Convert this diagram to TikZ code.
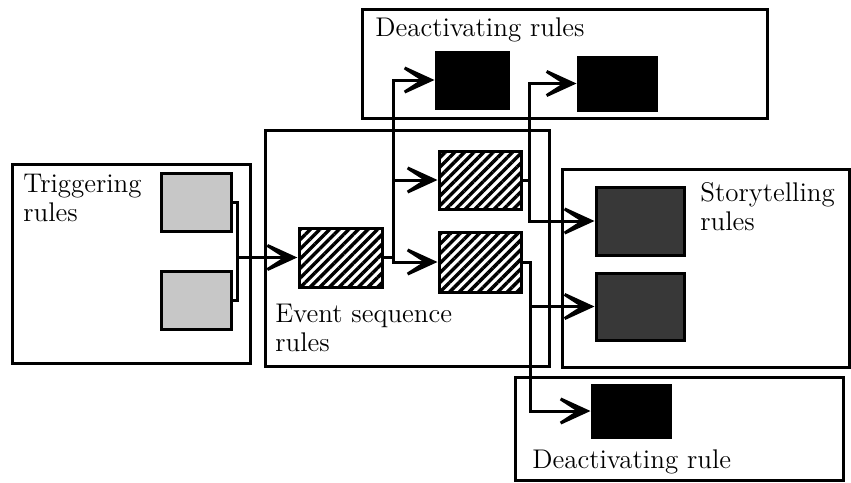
\documentclass[tikz,border=0pt]{standalone}
\usetikzlibrary{arrows.meta}
\usetikzlibrary{patterns.meta}
\tikzset{
  groupbox/.style={draw, line width=1.5pt, inner sep=0pt},
  rulecell/.style={draw, line width=1.5pt, inner sep=0pt},
  trigcell/.style={rulecell, fill=black!22},
  eventcell/.style={rulecell, fill=white,
    pattern={Lines[angle=45, distance=3.4pt, line width=1.7pt]}},
  deactcell/.style={rulecell, fill=black},
  storycell/.style={rulecell, fill=black!78},
  grouplabel/.style={anchor=north west, inner sep=0pt, align=left,
    font=\fontsize{13.5}{14.5}\selectfont},
  link/.style={line width=1.5pt},
  arrowlink/.style={link, -{Stealth[length=24pt, width=22pt, inset=17pt]}},
}

\begin{document}
\begin{tikzpicture}[x=0.5pt, y=-0.5pt]
\useasboundingbox (0,0) rectangle (851,482);

% Rule groups.
\node[groupbox, minimum width=119pt, minimum height=99.5pt]
  (trigbox) at (131,263.5) {};
\node[groupbox, minimum width=142pt, minimum height=118pt]
  (eventbox) at (407,248) {};
\node[groupbox, minimum width=202.5pt, minimum height=54.5pt]
  (topbox) at (564.5,63.5) {};
\node[groupbox, minimum width=143.5pt, minimum height=99pt]
  (storybox) at (705.5,268) {};
\node[groupbox, minimum width=164pt, minimum height=51.5pt]
  (botbox) at (679,428.5) {};

\node[grouplabel] (triglabel) at (23,174) {Triggering\\rules};
\node[grouplabel] (eventlabel) at (275,304) {Event sequence\\rules};
\node[grouplabel] (toplabel) at (375,17) {Deactivating rules};
\node[grouplabel] (storylabel) at (700,182) {Storytelling\\rules};
\node[grouplabel] (botlabel) at (532,449) {Deactivating rule};

% Junction points of the links.
\coordinate (tj) at (237,257.5);
\coordinate (ej) at (393,257.5);
\coordinate (uj) at (529,180);
\coordinate (lj) at (530,306.5);

% Single rules.
\node[trigcell, minimum width=35pt, minimum height=29pt]
  (trig1) at (196,202) {};
\node[trigcell, minimum width=35pt, minimum height=29pt]
  (trig2) at (196,300) {};
\node[eventcell, minimum width=41.5pt, minimum height=29.5pt]
  (ev1) at (340.5,257.5) {};
\node[eventcell, minimum width=41pt, minimum height=29pt]
  (ev2) at (480,180) {};
\node[eventcell, minimum width=41pt, minimum height=30pt]
  (ev3) at (480,262) {};
\node[deactcell, minimum width=36pt, minimum height=28pt]
  (deact1) at (472,80) {};
\node[deactcell, minimum width=39pt, minimum height=26.5pt]
  (deact2) at (617,83.5) {};
\node[storycell, minimum width=44pt, minimum height=34pt]
  (story1) at (640,221) {};
\node[storycell, minimum width=44pt, minimum height=33.5pt]
  (story2) at (640,306.5) {};
\node[deactcell, minimum width=39pt, minimum height=26pt]
  (deact3) at (631,411) {};

% Links between the rules.
\draw[link] (trig1.east) -| (tj) |- (trig2.east);
\draw[arrowlink] (tj) -- (ev1.west);
\draw[arrowlink] (ev1.east) -- (ej) |- (deact1.west);
\draw[arrowlink] (ej) |- (ev2.west);
\draw[arrowlink] (ej) |- (ev3.west);
\draw[arrowlink] (ev2.east) -- (uj) |- (deact2.west);
\draw[arrowlink] (uj) |- (story1.west);
\draw[arrowlink] (ev3.east) -| (lj) -- (story2.west);
\draw[arrowlink] (lj) |- (deact3.west);

\end{tikzpicture}
\end{document}
